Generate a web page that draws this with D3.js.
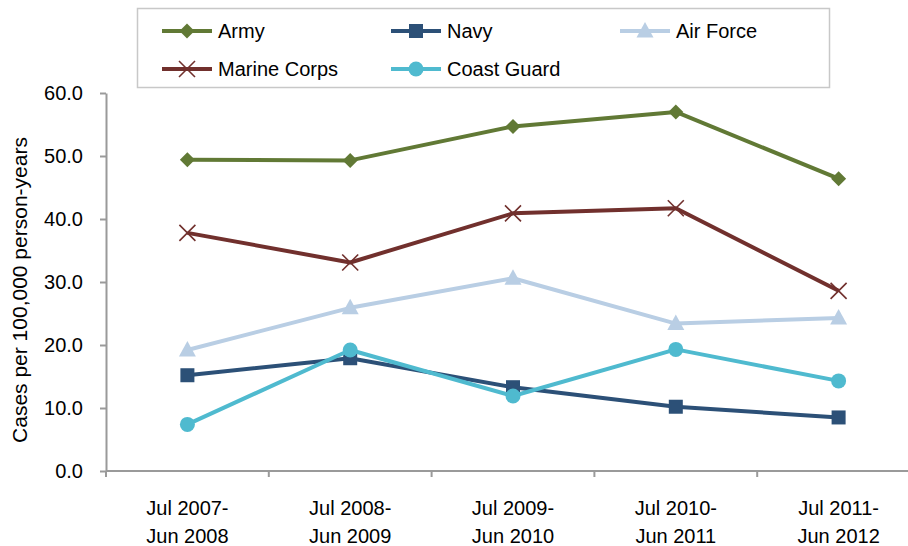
<!DOCTYPE html>
<html>
<head>
<meta charset="utf-8">
<script src="https://cdn.jsdelivr.net/npm/d3@7"></script>
<style>
body { margin: 0; background: #fff; }
text { font-family: "Liberation Sans", Arial, sans-serif; fill: #000; }
</style>
</head>
<body>
<div id="chart"></div>
<script>
/***********************************************************************/
//Data
/***********************************************************************/
const periods = [
	['Jul 2007-', 'Jun 2008'],
	['Jul 2008-', 'Jun 2009'],
	['Jul 2009-', 'Jun 2010'],
	['Jul 2010-', 'Jun 2011'],
	['Jul 2011-', 'Jun 2012']
]
const yTickValues = [0, 10, 20, 30, 40, 50, 60]

const army = [49.4, 49.3, 54.7, 57.0, 46.4]
const navy = [15.2, 17.9, 13.3, 10.2, 8.5]
const airForce = [19.2, 25.9, 30.6, 23.4, 24.3]
const marineCorps = [37.8, 33.1, 40.9, 41.7, 28.6]
const coastGuard = [7.4, 19.2, 11.9, 19.3, 14.3]

const series = [
	{ name : 'Army', values : army, color : '#617935', symbol : 'diamond' },
	{ name : 'Navy', values : navy, color : '#2c5077', symbol : 'square' },
	{ name : 'Air Force', values : airForce, color : '#b9cee4', symbol : 'triangle' },
	{ name : 'Marine Corps', values : marineCorps, color : '#71302d', symbol : 'cross' },
	{ name : 'Coast Guard', values : coastGuard, color : '#4fbacf', symbol : 'circle' }
]

/***********************************************************************/
//Plot Area
/***********************************************************************/
const width = 908
const height = 546
const margin = { left : 106, top : 93, right : -12, bottom : 75 }
const plotW = width - margin.left - margin.right
const plotH = height - margin.top - margin.bottom
const fontSize = '20px'

const svg = d3.select('#chart').append('svg')
	.attr('width', width)
	.attr('height', height)

const g = svg.append('g')
	.attr('transform', `translate(${margin.left},${margin.top})`)

/***********************************************************************/
//Scale
/***********************************************************************/
const xScale = d3.scaleBand()
	.domain(d3.range(periods.length))
	.range([0, plotW])

const yScale = d3.scaleLinear()
	.domain([0, 60])
	.range([plotH, 0])

/***********************************************************************/
//Axes
/***********************************************************************/
const axisColor = '#9a9a9a'

const yAxis = d3.axisLeft(yScale)
	.tickValues(yTickValues)
	.tickFormat(d3.format('.1f'))
	.tickSize(6)
	.tickSizeOuter(0)
	.tickPadding(17)

const yAxisG = g.append('g').call(yAxis)
yAxisG.select('.domain').attr('stroke', axisColor).attr('stroke-width', 2)
yAxisG.selectAll('.tick line').attr('stroke', axisColor).attr('stroke-width', 2)
yAxisG.selectAll('.tick text')
	.style('font-size', fontSize)
	.attr('font-family', '"Liberation Sans", Arial, sans-serif')
	.attr('fill', '#000')

const xAxisG = g.append('g').attr('transform', `translate(0,${plotH})`)
xAxisG.append('line')
	.attr('x1', 0).attr('x2', plotW)
	.attr('stroke', axisColor).attr('stroke-width', 2)

const bounds = d3.range(periods.length + 1).map(i => i < periods.length ? xScale(i) : plotW)
xAxisG.selectAll('.xtick').data(bounds).join('line')
	.attr('x1', d => d).attr('x2', d => d)
	.attr('y1', 0).attr('y2', 6)
	.attr('stroke', axisColor).attr('stroke-width', 2)

const xLabels = xAxisG.selectAll('.xlabel').data(periods).join('text')
	.attr('text-anchor', 'middle')
	.attr('transform', (d, i) => `translate(${xScale(i) + xScale.bandwidth() / 2},0)`)
	.style('font-size', fontSize)
xLabels.append('tspan').attr('x', 0).attr('y', 44).text(d => d[0])
xLabels.append('tspan').attr('x', 0).attr('y', 72).text(d => d[1])

svg.append('text')
	.attr('transform', `translate(27,290) rotate(-90)`)
	.attr('text-anchor', 'middle')
	.style('font-size', '21px')
	.text('Cases per 100,000 person-years')

/***********************************************************************/
// Plotting
/***********************************************************************/
const cx = i => xScale(i) + xScale.bandwidth() / 2

const line = d3.line()
	.x((d, i) => cx(i))
	.y(d => yScale(d))

function drawMarker(sel, s) {
	const c = s.color
	if (s.symbol === 'diamond') {
		sel.append('path').attr('d', 'M0,-7.5L7.5,0L0,7.5L-7.5,0Z').attr('fill', c)
	} else if (s.symbol === 'square') {
		sel.append('rect').attr('x', -7).attr('y', -7).attr('width', 14).attr('height', 14).attr('fill', c)
	} else if (s.symbol === 'triangle') {
		sel.append('path').attr('d', 'M0,-9L8.5,6.5L-8.5,6.5Z').attr('fill', c)
	} else if (s.symbol === 'cross') {
		sel.append('path').attr('d', 'M-8,-8L8,8M-8,8L8,-8')
			.attr('stroke', c).attr('stroke-width', 1.6).attr('fill', 'none')
	} else {
		sel.append('circle').attr('r', 7.5).attr('fill', c)
	}
}

series.forEach(s => {
	g.append('path')
		.datum(s.values)
		.attr('fill', 'none')
		.attr('stroke', s.color)
		.attr('stroke-width', 4)
		.attr('stroke-linejoin', 'round')
		.attr('d', line)

	g.selectAll(null).data(s.values).join('g')
		.attr('transform', (d, i) => `translate(${cx(i)},${yScale(d)})`)
		.each(function () { drawMarker(d3.select(this), s) })
})

/***********************************************************************/
//Legend
/***********************************************************************/
const legend = svg.append('g')
legend.append('rect')
	.attr('x', 137.5).attr('y', 8.5)
	.attr('width', 692).attr('height', 79)
	.attr('fill', '#fff')
	.attr('stroke', '#c8c8c8')
	.attr('stroke-width', 1.5)

const legendPos = [[162, 31], [391, 31], [620, 31], [162, 69], [391, 69]]

series.forEach((s, i) => {
	const [lx, ly] = legendPos[i]
	const item = legend.append('g').attr('transform', `translate(${lx},${ly})`)
	item.append('line')
		.attr('x1', 0).attr('x2', 50)
		.attr('stroke', s.color).attr('stroke-width', 4)
	const m = item.append('g').attr('transform', 'translate(25,0)')
	drawMarker(m, s)
	item.append('text')
		.attr('x', 56).attr('y', 7)
		.style('font-size', fontSize)
		.text(s.name)
})
</script>
</body>
</html>
